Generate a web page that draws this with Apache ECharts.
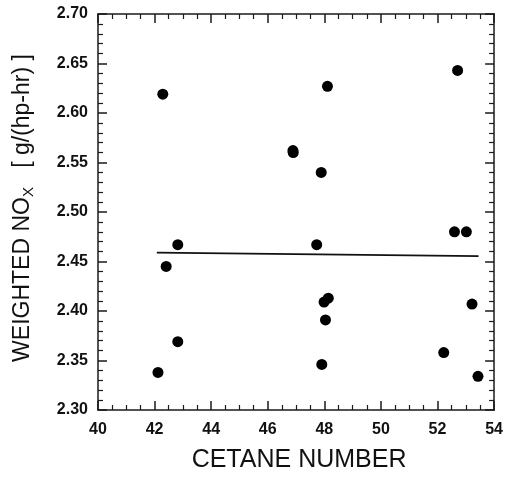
<!DOCTYPE html>
<html>
<head>
<meta charset="utf-8">
<script src="https://cdn.jsdelivr.net/npm/echarts@6/dist/echarts.min.js"></script>
<style>
html,body{margin:0;padding:0;background:#fff;}
#chart{width:506px;height:478px;}
</style>
</head>
<body>
<div id="chart"></div>
<script>
// Data
var cetane = [42.29, 42.12, 42.41, 42.82, 42.82, 46.89, 46.90, 47.73, 47.89, 48.11, 47.91, 48.04, 47.99, 48.14, 52.22, 52.60, 53.02, 52.71, 53.22, 53.43];
var nox    = [2.619, 2.338, 2.445, 2.467, 2.369, 2.562, 2.560, 2.467, 2.540, 2.627, 2.346, 2.391, 2.409, 2.413, 2.358, 2.480, 2.480, 2.643, 2.407, 2.334];
var fitX = [42.08, 53.45];
var fitY = [2.459, 2.4555];
var xTicks = [40, 42, 44, 46, 48, 50, 52, 54];
var yTicks = [2.30, 2.35, 2.40, 2.45, 2.50, 2.55, 2.60, 2.65, 2.70];

var chart = echarts.init(document.getElementById('chart'));
var font = 'Liberation Sans, Arial, sans-serif';
var axisColor = '#1a1a1a';

function xAxisDef(pos, showLabel) {
  return {
    type: 'value', position: pos,
    min: xTicks[0], max: xTicks[xTicks.length - 1], interval: 2,
    axisLine: {show: true, onZero: false, lineStyle: {color: axisColor, width: 1.5}},
    axisTick: {show: true, inside: true, length: 9, lineStyle: {color: axisColor, width: 1.5}},
    minorTick: {show: true, splitNumber: 4, length: 5, lineStyle: {color: axisColor, width: 1.2}},
    splitLine: {show: false},
    axisLabel: {show: showLabel, margin: 12, fontSize: 16, fontFamily: font, color: '#111', fontWeight: 'bold'},
    name: showLabel ? 'CETANE NUMBER' : '',
    nameLocation: 'middle', nameGap: 38,
    nameTextStyle: {fontSize: 25, fontFamily: font, color: '#111', padding: [0, 0, 0, 6]}
  };
}
function yAxisDef(pos, showLabel) {
  return {
    type: 'value', position: pos,
    min: yTicks[0], max: yTicks[yTicks.length - 1], interval: 0.05,
    axisLine: {show: true, onZero: false, lineStyle: {color: axisColor, width: 1.5}},
    axisTick: {show: true, inside: true, length: 9, lineStyle: {color: axisColor, width: 1.5}},
    minorTick: {show: true, splitNumber: 5, length: 5, lineStyle: {color: axisColor, width: 1.2}},
    splitLine: {show: false},
    axisLabel: {show: showLabel, margin: 10, fontSize: 16, fontFamily: font, color: '#111', fontWeight: 'bold',
      formatter: function (v) { return v.toFixed(2); }},
    name: showLabel ? '{m|WEIGHTED NO}{s|X}{m|   [ g/(hp-hr) ]}' : '',
    nameLocation: 'middle', nameGap: 62, nameRotate: 90,
    nameTextStyle: {
      fontSize: 23, fontFamily: font, color: '#111', padding: [0, 0, 0, 8],
      rich: {
        m: {fontSize: 23, fontFamily: font, color: '#111', lineHeight: 26},
        s: {fontSize: 15, fontFamily: font, color: '#111', lineHeight: 26, verticalAlign: 'bottom', padding: [8, 0, 0, 0]}
      }
    }
  };
}

var points = cetane.map(function (c, i) { return [c, nox[i]]; });
var fit = fitX.map(function (x, i) { return [x, fitY[i]]; });

chart.setOption({
  animation: false,
  backgroundColor: '#fff',
  grid: {left: 98, right: 9, top: 14, bottom: 66, containLabel: false},
  xAxis: [xAxisDef('bottom', true), xAxisDef('top', false)],
  yAxis: [yAxisDef('left', true), yAxisDef('right', false)],
  series: [
    {type: 'line', data: fit, symbol: 'none', xAxisIndex: 0, yAxisIndex: 0,
     lineStyle: {color: '#111', width: 1.8}, z: 2},
    {type: 'scatter', data: points, symbol: 'circle', symbolSize: 11, xAxisIndex: 0, yAxisIndex: 0,
     itemStyle: {color: '#000', opacity: 1}, z: 3}
  ]
});
</script>
</body>
</html>
